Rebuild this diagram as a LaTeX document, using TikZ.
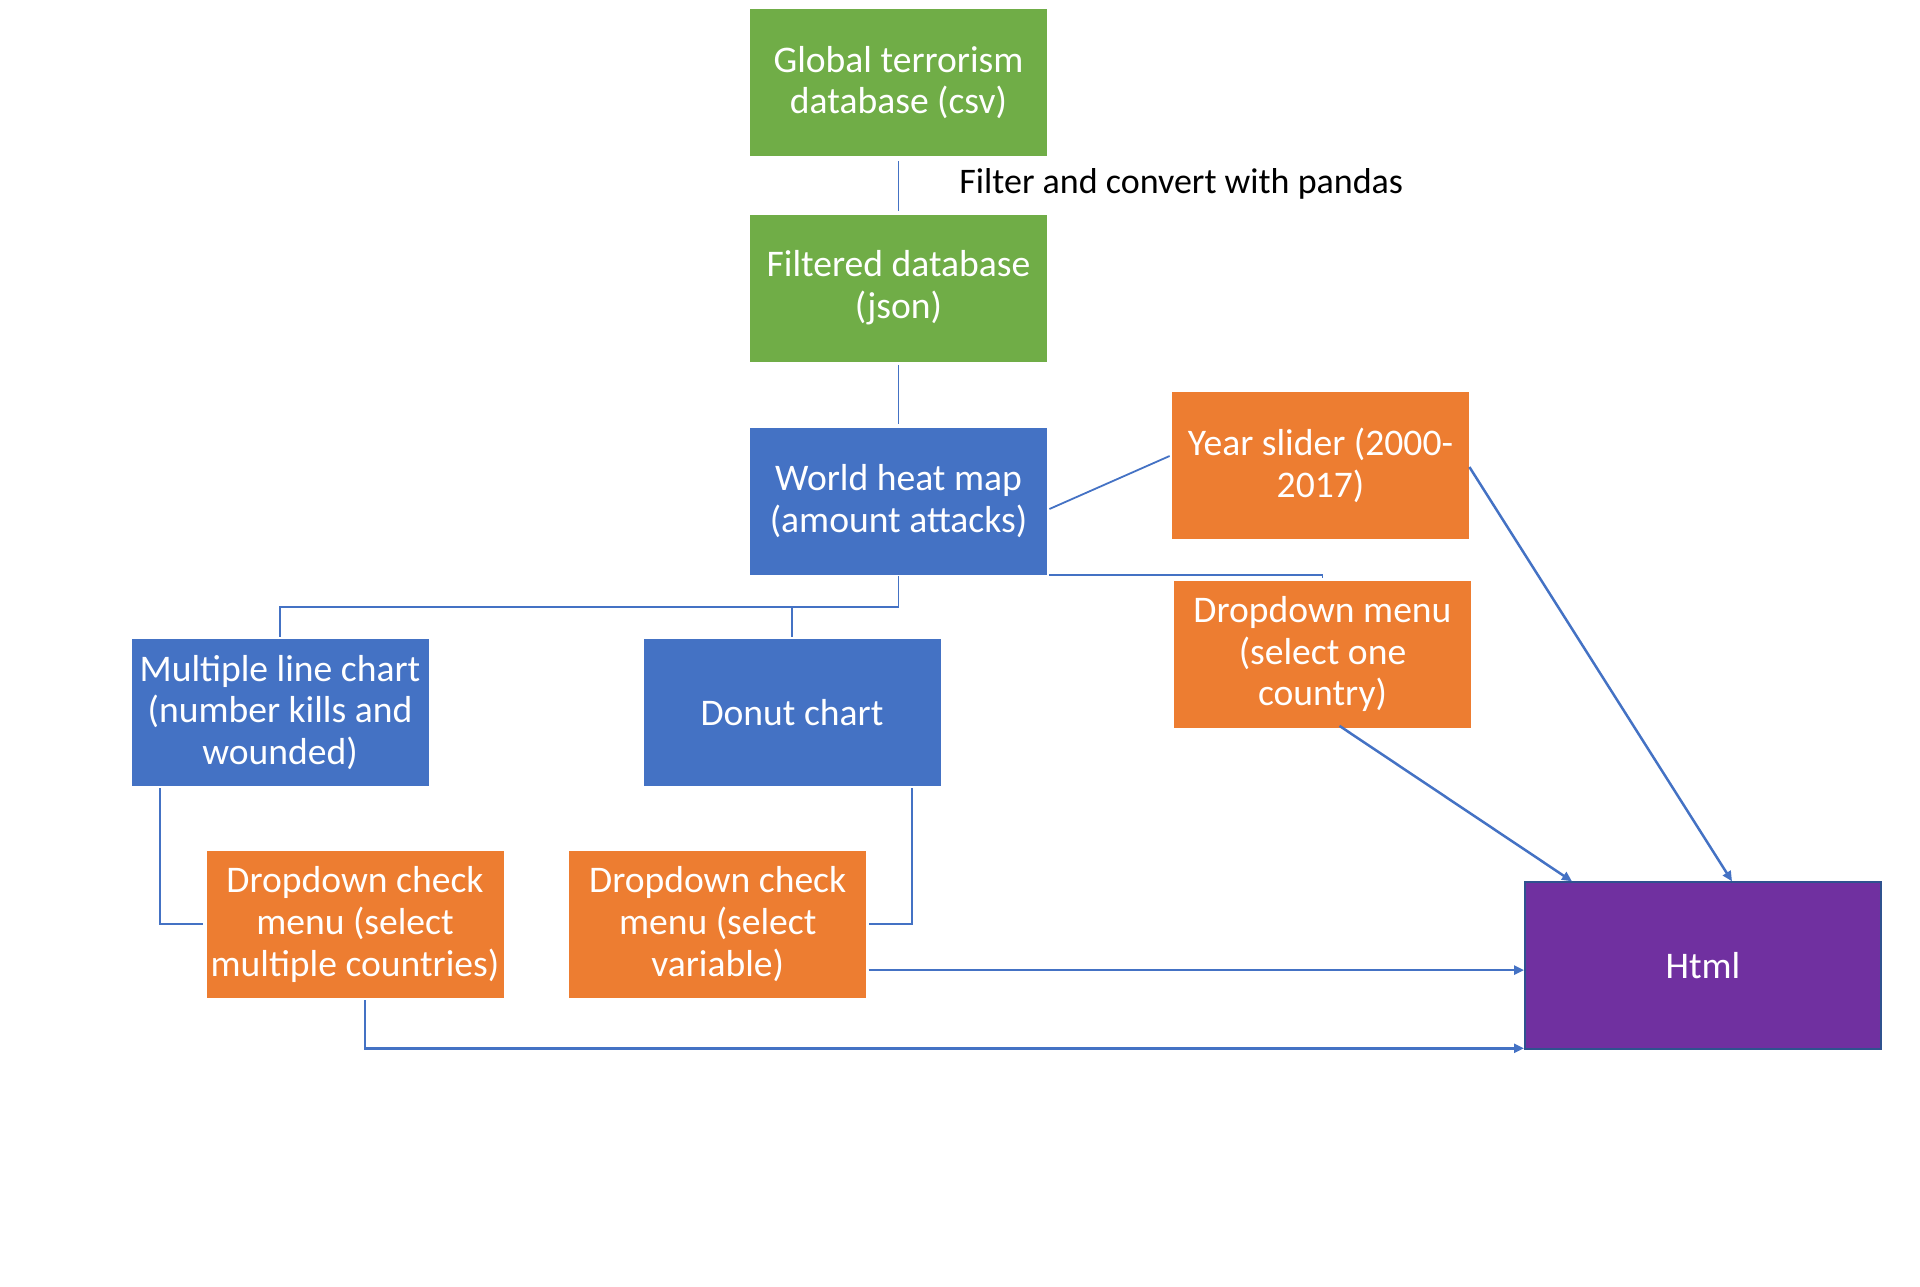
\documentclass[tikz,border=0pt]{standalone}
\usepackage{fontspec}
\setmainfont{Carlito}
\usetikzlibrary{calc,arrows.meta}
\definecolor{cgreen}{HTML}{70AD47}
\definecolor{cblue}{HTML}{4472C4}
\definecolor{corange}{HTML}{ED7D31}
\definecolor{cpurple}{HTML}{7030A0}
\definecolor{cedge}{HTML}{2F528F}
\begin{document}
\begin{tikzpicture}[x=0.5pt,y=-0.5pt,
  box/.style={minimum width=148.5pt,minimum height=73.5pt,inner sep=0pt,
    text=white,align=center,font=\fontsize{18.8pt}{20.9pt}\selectfont},
  gbox/.style={box,fill=cgreen},
  bbox/.style={box,fill=cblue},
  obox/.style={box,fill=corange},
  conn/.style={draw=cblue,line width=0.9pt},
  arr/.style={draw=cblue,line width=1.25pt,-{Triangle[length=5pt,width=4.5pt]}}]
\useasboundingbox (0,0) rectangle (1920,1286);
\node[gbox] (gtd) at (898.5,82.5) {Global terrorism\\database (csv)};
\node[gbox] (fdb) at (898.5,288) {Filtered database\\(json)};
\node[bbox] (whm) at (898.5,501) {World heat map\\(amount attacks)};
\node[obox] (ys) at (1320.5,465) {Year slider (2000-\\2017)};
\node[obox] (ddm) at (1322.5,654) {Dropdown menu\\(select one\\country)};
\node[bbox] (mlc) at (280,712.5) {Multiple line chart\\(number kills and\\wounded)};
\node[bbox] (dc) at (792,712.5) {Donut chart};
\node[obox] (dcm) at (355,924.2) {Dropdown check\\menu (select\\multiple countries)};
\node[obox] (dcv) at (717.7,924.2) {Dropdown check\\menu (select\\variable)};
\node[box,fill=cpurple,draw=cedge,line width=1pt,minimum width=178pt,minimum height=83.5pt] (html) at (1703,965.8) {Html};
\node[anchor=west,inner sep=0pt,font=\fontsize{18pt}{20pt}\selectfont] (lbl) at (959,183.5) {Filter and convert with pandas};
% connectors
\draw[conn,shorten <=2.5pt,shorten >=1.5pt] (gtd.south) -- (fdb.north);
\draw[conn,shorten <=1.5pt,shorten >=1.5pt] (fdb.south) -- (whm.north);
\draw[conn] ($(whm.east)+(2,8)$) -- ($(ys.west)+(-2,-9)$);
\draw[conn] ($(whm.south east)+(2,0)$) -- (ddm.north |- whm.south east) -- ($(ddm.north)+(0,-2)$);
\draw[conn] ($(whm.south)+(0,1)$) -- ++(0,31) coordinate (split) -| ($(mlc.north)+(0,-2)$);
\draw[conn] (split) -| ($(dc.north)+(0,-2)$);
\draw[conn] ($(mlc.south west)+(28.7,2)$) |- ($(dcm.west)+(-3,0)$);
\draw[conn] ($(dc.south east)+(-29.3,2)$) |- ($(dcv.east)+(2,0)$);
% arrows
\draw[arr] ($(dcv.south east)+(2,-28)$) coordinate (a1) -- (a1 -| html.west);
\draw[arr] ($(dcm.south)+(10,2)$) |- ($(html.south west)+(0,-2)$);
\draw[arr] ($(ddm.south)+(17,-2)$) -- ($(html.north west)+(48,0)$);
\draw[arr] ($(ys.east)+(0,2)$) -- ($(html.north)+(29,0)$);
\end{tikzpicture}
\end{document}
